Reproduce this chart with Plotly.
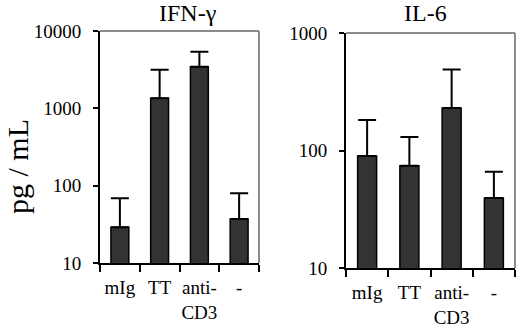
import plotly.graph_objects as go

categories = ["mIg", "TT", "anti-<br>CD3", "-"]

ifn_values = [29, 1350, 3450, 37]
ifn_err_top = [69, 3150, 5400, 80]

il6_values = [90, 74, 230, 39.5]
il6_err_top = [182, 130, 490, 66]

ifn_ticks = [10, 100, 1000, 10000]
il6_ticks = [10, 100, 1000]

FONT = "Liberation Serif"
BAR_FILL = "#333333"

fig = go.Figure()

def add_panel(vals, tops, xa, ya):
    fig.add_trace(go.Bar(
        x=categories, y=vals, xaxis=xa, yaxis=ya,
        marker=dict(color=BAR_FILL, line=dict(color="black", width=1.5)),
        width=0.45,
        error_y=dict(type="data", symmetric=False,
                     array=[t - v for t, v in zip(tops, vals)],
                     arrayminus=[0] * len(vals),
                     color="black", thickness=2, width=9),
        showlegend=False,
    ))

add_panel(ifn_values, ifn_err_top, "x", "y")
add_panel(il6_values, il6_err_top, "x2", "y2")

W, H = 520, 330
def xd(a, b):
    return [a / W, b / W]
def yd(top, bottom):
    return [(H - bottom) / H, (H - top) / H]

xcommon = dict(type="category", showline=True, linecolor="black", linewidth=2,
               ticks="outside", tickson="boundaries", ticklen=7, tickwidth=2,
               tickcolor="black", showgrid=False, zeroline=False,
               tickangle=0, automargin=False, ticklabelstandoff=6,
               tickfont=dict(family=FONT, size=19, color="black"),
               range=[-0.5, 3.5], fixedrange=True)
ycommon = dict(type="log", showline=True, linecolor="black", linewidth=2,
               ticks="outside", ticklen=5, tickwidth=2, tickcolor="black",
               showgrid=False, zeroline=False, automargin=False,
               ticklabelstandoff=8,
               tickfont=dict(family=FONT, size=19, color="black"))

fig.update_layout(
    width=W, height=H,
    margin=dict(l=0, r=0, t=0, b=0, autoexpand=False),
    paper_bgcolor="white", plot_bgcolor="white",
    xaxis=dict(domain=xd(100, 259), anchor="y", **xcommon),
    yaxis=dict(domain=yd(31, 263), anchor="x", range=[1, 4],
               tickvals=ifn_ticks, ticktext=[str(t) for t in ifn_ticks], **ycommon),
    xaxis2=dict(domain=xd(346, 515), anchor="y2", **xcommon),
    yaxis2=dict(domain=yd(33, 268), anchor="x2", range=[1, 3],
                tickvals=il6_ticks, ticktext=[str(t) for t in il6_ticks], **ycommon),
    font=dict(family=FONT, color="black"),
)

grey = dict(color="#8c8c8c", width=2)
for xr, yr in [("x domain", "y domain"), ("x2 domain", "y2 domain")]:
    fig.add_shape(type="line", xref=xr, yref=yr, x0=0, x1=1, y0=1, y1=1, line=grey)
    fig.add_shape(type="line", xref=xr, yref=yr, x0=1, x1=1, y0=0, y1=1, line=grey)

fig.add_annotation(text="IFN-γ", x=188 / W, y=1 - 13 / H, xref="paper", yref="paper",
                   xanchor="center", yanchor="middle",
                   showarrow=False, font=dict(family=FONT, size=24, color="black"))
fig.add_annotation(text="IL-6", x=425 / W, y=1 - 13 / H, xref="paper", yref="paper",
                   xanchor="center", yanchor="middle",
                   showarrow=False, font=dict(family=FONT, size=24, color="black"))
fig.add_annotation(text="pg / mL", x=17 / W, y=1 - 167 / H, xref="paper", yref="paper",
                   xanchor="center", yanchor="middle",
                   showarrow=False, textangle=-90,
                   font=dict(family=FONT, size=30, color="black"))

fig.write_html("out.html", config={"displayModeBar": False},
               post_script="document.body.style.margin='0';")
